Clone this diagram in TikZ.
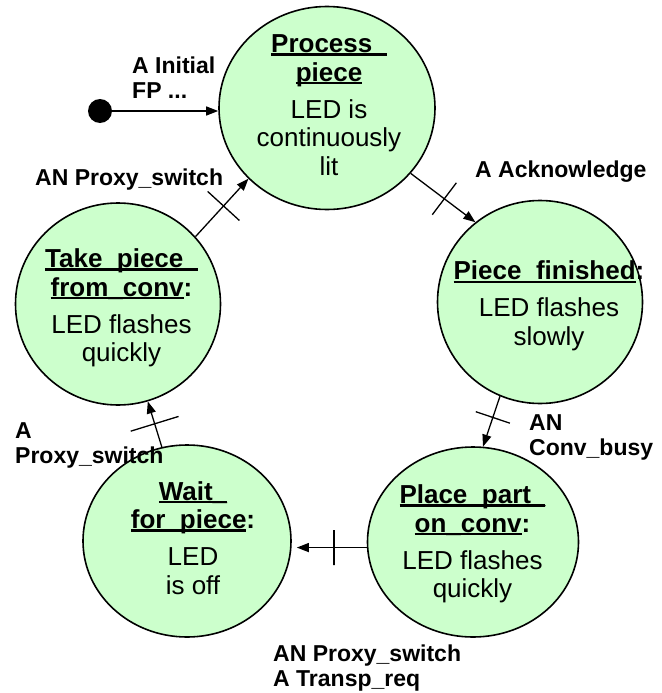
\documentclass[tikz,border=0pt]{standalone}
\usepackage{fontspec}
\setmainfont{Liberation Sans}
\usetikzlibrary{arrows.meta,shapes.geometric}
\definecolor{statefill}{RGB}{204,255,204}
% underline whose rule covers the underscore glyph, so both merge into one line
\newsavebox\ulinebox
\newsavebox\uscorebox
\newcommand\ulined[1]{\sbox\ulinebox{#1}\sbox\uscorebox{\_}%
  \rlap{\rule[-\dp\uscorebox]{\wd\ulinebox}{0.1em}}\usebox\ulinebox}

\begin{document}
\begin{tikzpicture}[x=1pt,y=-1pt,
  state/.style={ellipse, draw=black, line width=1.6pt, fill=statefill, inner sep=0pt},
  statetext/.style={align=center, inner sep=0pt, font=\fontsize{26}{28.5}\selectfont},
  guard/.style={align=left, inner sep=0pt, anchor=base west, font=\bfseries\fontsize{23}{25}\selectfont},
  trans/.style={line width=1.3pt, -{Triangle[length=12pt,width=9pt]}},
  crossbar/.style={draw, line width=1.3pt, sloped, minimum width=0pt, minimum height=#1, inner sep=0pt, outer sep=0pt, fill=none},
]
\useasboundingbox (0,0) rectangle (661,693);

% states
\node[state, minimum width=216pt, minimum height=203pt] (proc)  at (327,108) {};
\node[state, minimum width=205pt, minimum height=203pt] (fin)   at (540,302) {};
\node[state, minimum width=205pt, minimum height=202pt] (take)  at (118,304) {};
\node[state, minimum width=208pt, minimum height=192pt] (wait)  at (187,541) {};
\node[state, minimum width=211pt, minimum height=190pt] (place) at (473,542) {};

% state texts
\node[statetext] (proc-text) at (329,105)
  {\textbf{\ulined{Process\_}}\\\textbf{\ulined{piece}}\\[8.5pt]LED is\\continuously\\lit};
\node[statetext] (fin-text) at (549,306)
  {\textbf{\ulined{Piece\_finished}:}\\[8.5pt]LED flashes\\slowly};
\node[statetext] (take-text) at (121.5,308)
  {\textbf{\ulined{Take\_piece\_}}\\\textbf{\ulined{from\_conv}:}\\[8.5pt]LED flashes\\quickly};
\node[statetext] (wait-text) at (193,538)
  {\textbf{\ulined{Wait\_}}\\\textbf{\ulined{for\_piece}:}\\[8.5pt]LED\\is off};
\node[statetext] (place-text) at (472.5,544)
  {\textbf{\ulined{Place\_part\_}}\\\textbf{\ulined{on\_conv}:}\\[8.5pt]LED flashes\\quickly};

% initial state
\node[circle, fill=black, minimum size=24pt, inner sep=0pt] (init) at (100,111) {};
\draw[trans] (init) -- (init -| proc.west);

% transitions
\draw[trans] (take.41) -- node[crossbar=43pt, pos=0.53]{} (proc.222);
\draw[trans] (proc.322) -- node[crossbar=40pt, pos=0.52]{} (fin.129);
\draw[trans] (fin.247) -- node[crossbar=36pt, pos=0.42]{} (place.84);
\draw[trans, shorten >=5pt] (place.183) -- node[crossbar=35pt, pos=0.44]{} (place.183 -| wait.east);
\draw[trans] (wait.105) -- node[crossbar=50pt, pos=0.51]{} (take.287);

% guards (base anchor sits on the last line of each label)
\node[guard] (g-init)   at (132,99)  {A Initial\\FP ...};
\node[guard] (g-ack)    at (475,177) {A Acknowledge};
\node[guard] (g-busy)   at (529,455) {AN\\Conv\_busy};
\node[guard] (g-transp) at (273,686) {AN Proxy\_switch\\A Transp\_req};
\node[guard] (g-take)   at (15,463)  {A\\Proxy\_switch};
\node[guard] (g-proc)   at (35,185)  {AN Proxy\_switch};
\end{tikzpicture}
\end{document}
